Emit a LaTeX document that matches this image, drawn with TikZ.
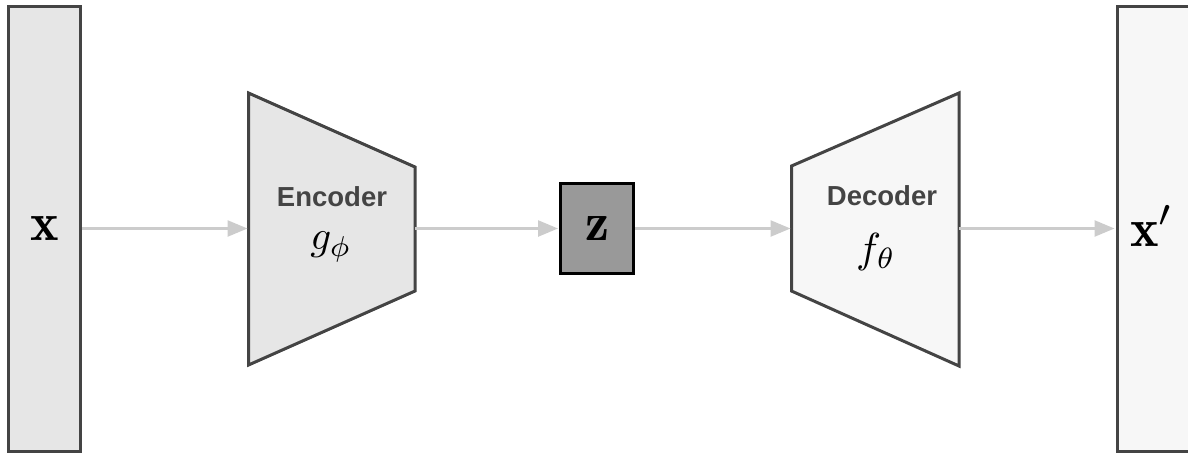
\documentclass[tikz,border=0pt]{standalone}
\usepackage{fontspec}
\usepackage{graphicx}
\newfontfamily\labfont{Liberation Sans}
\usetikzlibrary{arrows.meta}
\definecolor{lightfill}{HTML}{E6E6E6}
\definecolor{palefill}{HTML}{F7F7F7}
\definecolor{edgecol}{HTML}{444444}
\definecolor{arrcol}{HTML}{CCCCCC}
\definecolor{zfill}{HTML}{999999}
\definecolor{txtcol}{HTML}{444444}
\newcommand{\scaledmath}[2]{\scalebox{#1}{$#2$}}
\tikzset{
  datacol/.style={draw=edgecol, line width=3pt, minimum width=72pt, minimum height=445pt, inner sep=0pt},
  trap/.style={draw=edgecol, line width=3pt, line join=miter},
  zbox/.style={draw=black, fill=zfill, line width=3pt, minimum width=73pt, minimum height=90pt, inner sep=0pt},
  blocklabel/.style={text=txtcol, font=\labfont\bfseries\fontsize{27.5}{30}\selectfont},
  blockmath/.style={inner sep=0pt},
  conn/.style={draw=arrcol, line width=2.5pt, -{Triangle[length=20pt,width=16pt]}, shorten >=1pt}
}
\begin{document}
\begin{tikzpicture}[x=1pt,y=-1pt]
\useasboundingbox (0,0) rectangle (1188,455);
% input and output
\node[datacol, fill=lightfill] (x) at (44.5,228.5) {\scaledmath{5.4}{\mathbf{x}}};
\node[datacol, fill=palefill] (xp) at (1153,228.5) {};
\node[inner sep=0pt] (xplab) at (1152,226) {\scaledmath{5.4}{\mathbf{x}'}};
% encoder
\draw[trap, fill=lightfill] (248.5,93) -- (415,167) -- (415,291) -- (248.5,365) -- cycle;
\coordinate (encin) at (248.5,228.5);
\coordinate (encout) at (415,228.5);
\node[blocklabel] (enclab) at (332,197) {Encoder};
\node[blockmath] (encmath) at (331,247) {\scaledmath{4.1}{g_\phi}};
% latent
\node[zbox] (z) at (597,228.5) {\scaledmath{5.4}{\mathbf{z}}};
% decoder
\draw[trap, fill=palefill] (791.5,166) -- (959,93) -- (959,366) -- (791.5,291) -- cycle;
\coordinate (decin) at (791.5,228.5);
\coordinate (decout) at (959,228.5);
\node[blocklabel] (declab) at (882,196) {Decoder};
\node[blockmath] (decmath) at (876,252) {\scaledmath{4.2}{f_\theta}};
% connectors
\draw[conn] (x.east) -- (encin);
\draw[conn] (encout) -- (z.west);
\draw[conn] (z.east) -- (decin);
\draw[conn] (decout) -- (xp.west);
\end{tikzpicture}
\end{document}
